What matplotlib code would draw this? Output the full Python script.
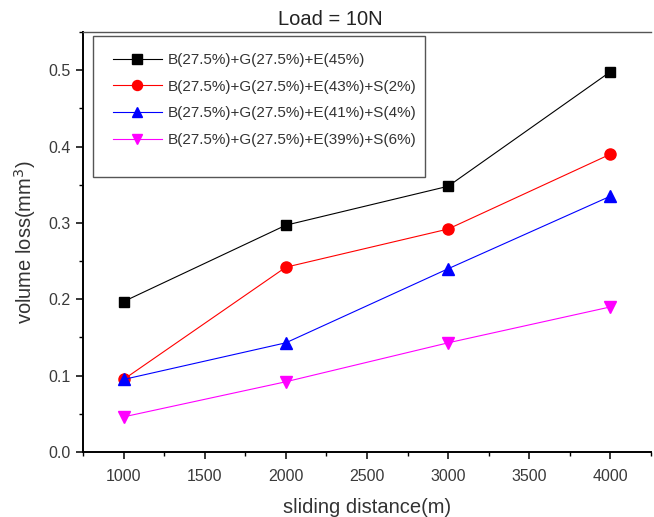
import matplotlib

matplotlib.use("Agg")
import matplotlib.pyplot as plt
from matplotlib.patches import Rectangle
from matplotlib.ticker import FormatStrFormatter, MultipleLocator

plt.rcParams["font.family"] = ["Liberation Sans", "DejaVu Sans"]

distance = [1000, 2000, 3000, 4000]
loss_base = [0.197, 0.297, 0.348, 0.498]
loss_s2 = [0.095, 0.242, 0.292, 0.390]
loss_s4 = [0.095, 0.143, 0.240, 0.335]
loss_s6 = [0.046, 0.092, 0.143, 0.190]

labels = [
    "B(27.5%)+G(27.5%)+E(45%)",
    "B(27.5%)+G(27.5%)+E(43%)+S(2%)",
    "B(27.5%)+G(27.5%)+E(41%)+S(4%)",
    "B(27.5%)+G(27.5%)+E(39%)+S(6%)",
]
styles = [
    ("black", "s", 7.5),
    ("red", "o", 8),
    ("blue", "^", 8),
    ("magenta", "v", 8),
]

fig = plt.figure(figsize=(6.54, 5.17), dpi=100)
ax = fig.add_axes([0.1269, 0.1257, 0.8685, 0.8124])

for ys, label, (color, marker, ms) in zip([loss_base, loss_s2, loss_s4, loss_s6], labels, styles):
    ax.plot(distance, ys, color=color, marker=marker, markersize=ms, linewidth=0.8, label=label)

ax.set_xlim(750, 4250)
ax.set_ylim(0, 0.55)
ax.xaxis.set_major_locator(MultipleLocator(500))
ax.xaxis.set_minor_locator(MultipleLocator(250))
ax.yaxis.set_major_locator(MultipleLocator(0.1))
ax.yaxis.set_minor_locator(MultipleLocator(0.05))
ax.yaxis.set_major_formatter(FormatStrFormatter("%.1f"))
ax.tick_params(which="major", direction="out", length=5, width=1.1, labelsize=11.5,
               labelcolor="#3a3a3a", pad=4)
ax.tick_params(axis="x", which="major", pad=7)
ax.tick_params(which="minor", direction="out", length=3, width=1)
ax.spines["right"].set_visible(False)
for side in ["left", "bottom"]:
    ax.spines[side].set_linewidth(1.4)
ax.spines["top"].set_linewidth(1.0)
ax.spines["top"].set_color("#555555")

ax.set_xlabel("sliding distance(m)", fontsize=14.5, color="#333333", labelpad=10)
ax.set_ylabel("volume loss(mm$^3$)", fontsize=14.5, color="#333333", labelpad=7)
ax.set_title("Load = 10N", fontsize=14.5, color="#222222", pad=5, x=0.435)

# legend entries without frame; the box is drawn separately so it can be taller than the entries
leg = ax.legend(loc="upper left", bbox_to_anchor=(0.0528, 0.950), frameon=False, fontsize=11,
                handlelength=3.2, handletextpad=0.4, labelspacing=0.83, borderpad=0,
                borderaxespad=0, markerscale=0.9)
for t in leg.get_texts():
    t.set_color("#333333")
ax.add_patch(Rectangle((0.0176, 0.655), 0.585, 0.335, transform=ax.transAxes, fill=False,
                       edgecolor="#555555", linewidth=1.0, zorder=5))

fig.savefig("out.png", dpi=100)
